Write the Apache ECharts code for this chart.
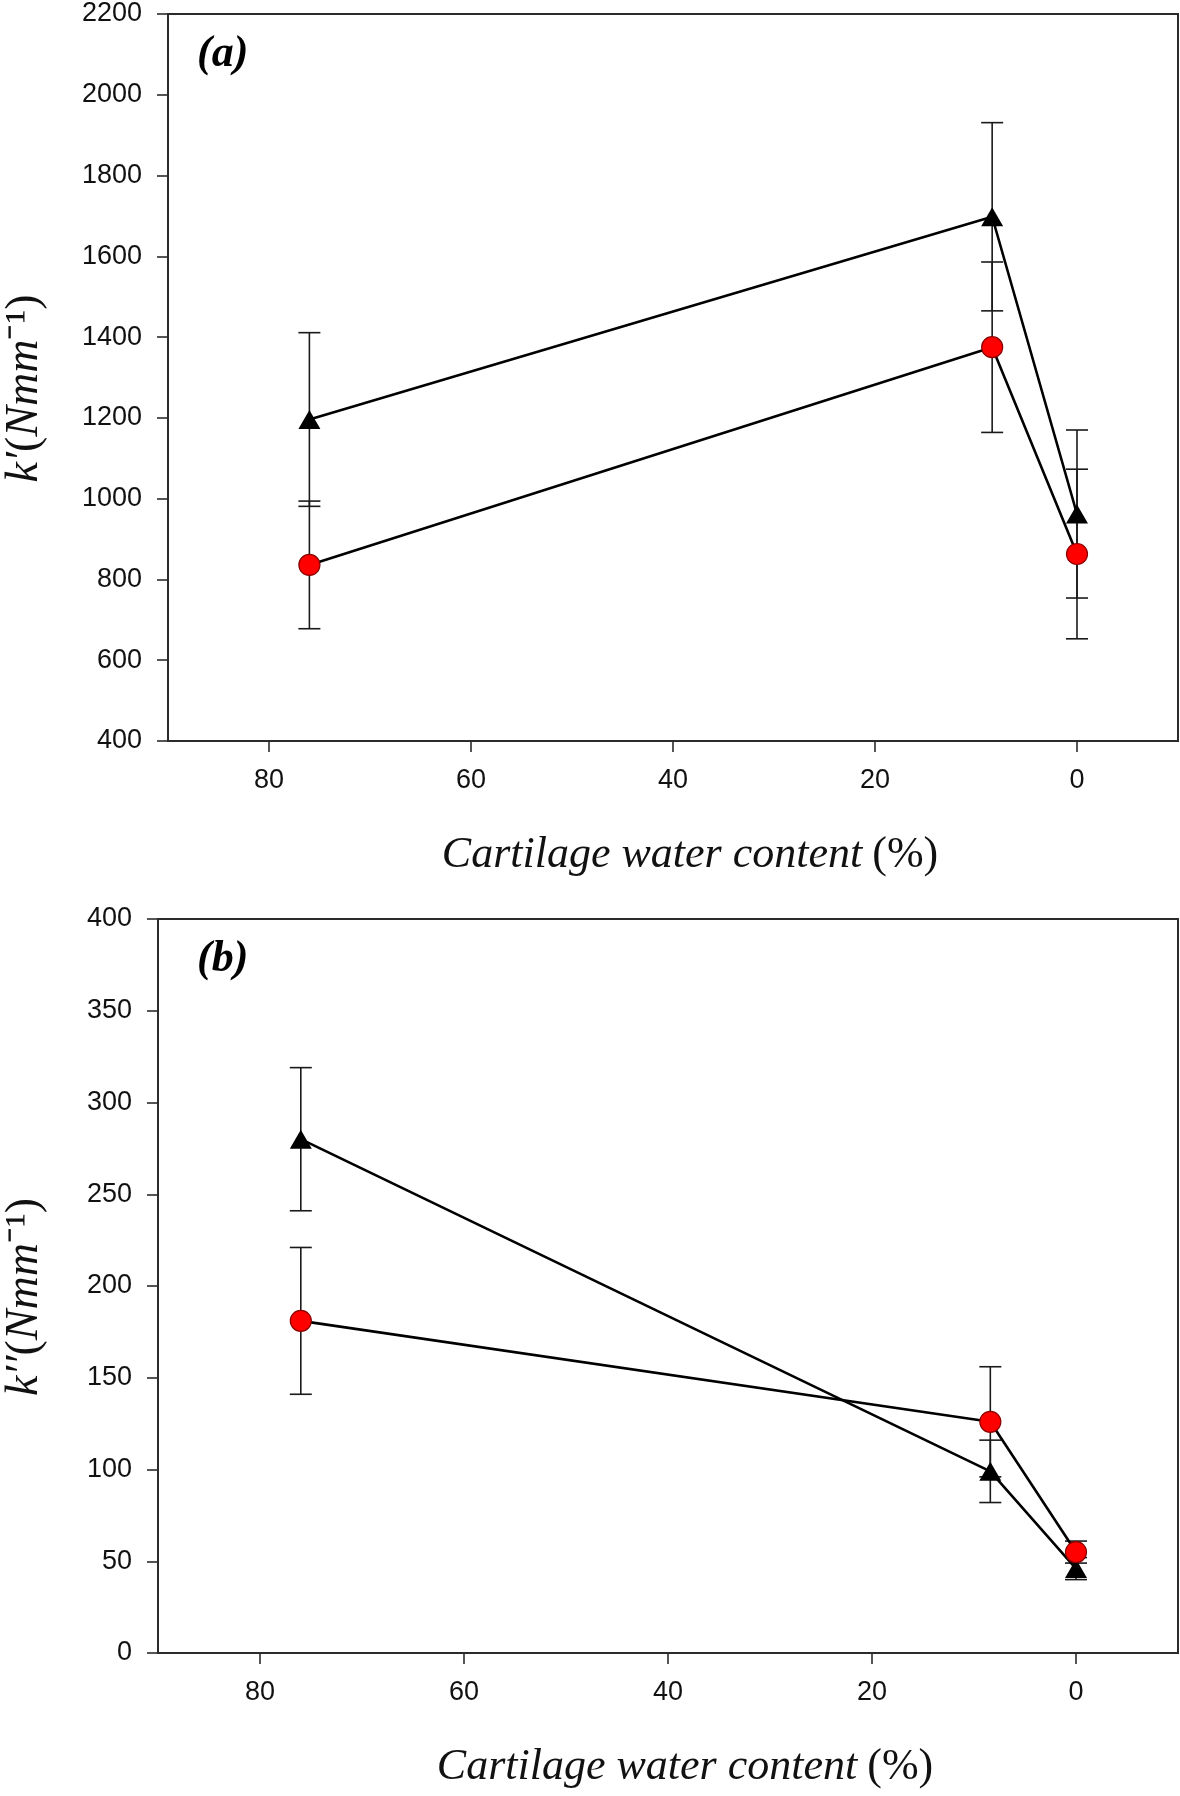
<!DOCTYPE html>
<html>
<head>
<meta charset="utf-8">
<script src="https://cdn.jsdelivr.net/npm/echarts@6/dist/echarts.min.js"></script>
<style>
html,body{margin:0;padding:0;background:#fff;}
#c{width:1180px;height:1796px;}
</style>
</head>
<body>
<div id="c"></div>
<script>
// ---- data ----
const waterContent = [76, 8.4, 0];            // x values (%)
const xTicks = [0, 20, 40, 60, 80];

const kPrimeTri = [1196, 1698, 962];
const kPrimeTriErr = [215, 233, 208];
const kPrimeCirc = [836, 1375, 863];
const kPrimeCircErr = [158, 211, 210];

const kDPrimeTri = [280, 99, 46];
const kDPrimeTriErr = [39, 17, 6];
const kDPrimeCirc = [181, 126, 55];
const kDPrimeCircErr = [40, 30, 6];

const panelLabels = ['(a)', '(b)'];
const xTitle = 'Cartilage water content';

// ---- helpers ----
function pts(vals) { return waterContent.map((x, i) => [x, vals[i]]); }
function errPts(vals, errs) { return waterContent.map((x, i) => [x, vals[i], errs[i]]); }

function errRender(params, api) {
  const x = api.value(0), y = api.value(1), e = api.value(2);
  const t = api.coord([x, y + e]);
  const b = api.coord([x, y - e]);
  const hw = 11;
  const st = { stroke: '#1a1a1a', lineWidth: 1.6 };
  return {
    type: 'group',
    children: [
      { type: 'line', shape: { x1: t[0], y1: t[1], x2: b[0], y2: b[1] }, style: st },
      { type: 'line', shape: { x1: t[0] - hw, y1: t[1], x2: t[0] + hw, y2: t[1] }, style: st },
      { type: 'line', shape: { x1: b[0] - hw, y1: b[1], x2: b[0] + hw, y2: b[1] }, style: st }
    ]
  };
}

const tickFont = { fontFamily: 'Liberation Sans, Arial, sans-serif', fontSize: 27, color: '#111' };
const axisLineStyle = { color: '#2b2b2b', width: 2 };
const serif = 'Liberation Serif, Times New Roman, serif';

function xAxisDef(gridIndex) {
  return {
    type: 'value', gridIndex, min: -10, max: 90, inverse: true,
    axisLine: { show: true, onZero: false, lineStyle: axisLineStyle },
    axisTick: { show: true, inside: false, length: 11, customValues: xTicks, lineStyle: { color: '#2b2b2b', width: 1.6 } },
    axisLabel: Object.assign({ margin: 26, customValues: xTicks, formatter: v => String(v) }, tickFont),
    splitLine: { show: false },
    name: '{i|' + xTitle + '}{u|(%)}',
    nameLocation: 'middle', nameGap: 92,
    nameTextStyle: {
      padding: [0, 0, 0, 34],
      rich: {
        i: { fontFamily: serif, fontStyle: 'italic', fontSize: 44, color: '#111' },
        u: { fontFamily: serif, fontSize: 44, color: '#111', padding: [0, 0, 0, 10] }
      }
    }
  };
}

function yAxisDef(gridIndex, min, max, interval, primes, gap) {
  return {
    type: 'value', gridIndex, min, max, interval,
    axisLine: { show: true, onZero: false, lineStyle: axisLineStyle },
    axisTick: { show: true, inside: false, length: 11, lineStyle: { color: '#2b2b2b', width: 1.6 } },
    axisLabel: Object.assign({ margin: 26, formatter: v => String(v) }, tickFont),
    splitLine: { show: false },
    name: '{i|k' + primes + '}{u|(}{i|Nmm}{u|\u207B\u00B9)}',
    nameLocation: 'middle', nameRotate: 90, nameGap: gap,
    nameTextStyle: {
      padding: [0, 0, 0, -22],
      rich: {
        i: { fontFamily: serif, fontStyle: 'italic', fontSize: 46, color: '#111' },
        u: { fontFamily: serif, fontSize: 46, color: '#111' }
      }
    }
  };
}

function lineSeries(xi, yi, vals, isTri) {
  return {
    type: 'line', xAxisIndex: xi, yAxisIndex: yi, data: pts(vals),
    lineStyle: { color: '#000', width: 2.6 },
    symbol: isTri ? 'triangle' : 'circle',
    symbolSize: isTri ? [22, 19] : 21,
    itemStyle: isTri ? { color: '#000' } : { color: '#ff0000', borderColor: '#8a0000', borderWidth: 1.2 },
    z: 3, animation: false
  };
}
function errSeries(xi, yi, vals, errs) {
  return {
    type: 'custom', xAxisIndex: xi, yAxisIndex: yi,
    data: errPts(vals, errs), encode: { x: 0, y: 1 },
    renderItem: errRender, z: 2, animation: false, clip: false
  };
}

const chart = echarts.init(document.getElementById('c'), null, { renderer: 'canvas' });
chart.setOption({
  backgroundColor: '#fff',
  animation: false,
  title: [
    { text: panelLabels[0], left: 192, top: 28,
      textStyle: { fontFamily: serif, fontStyle: 'italic', fontWeight: 'bold', fontSize: 44, color: '#000' } },
    { text: panelLabels[1], left: 192, top: 933,
      textStyle: { fontFamily: serif, fontStyle: 'italic', fontWeight: 'bold', fontSize: 44, color: '#000' } }
  ],
  grid: [
    { left: 168, top: 14, right: 2, height: 727, show: true, borderColor: '#2b2b2b', borderWidth: 2, containLabel: false, outerBoundsMode: 'none' },
    { left: 158, top: 919, right: 2, height: 734, show: true, borderColor: '#2b2b2b', borderWidth: 2, containLabel: false, outerBoundsMode: 'none' }
  ],
  xAxis: [xAxisDef(0), xAxisDef(1)],
  yAxis: [yAxisDef(0, 400, 2200, 200, '\u2032', 120), yAxisDef(1, 0, 400, 50, '\u2032\u2032', 110)],
  series: [
    errSeries(0, 0, kPrimeTri, kPrimeTriErr),
    errSeries(0, 0, kPrimeCirc, kPrimeCircErr),
    lineSeries(0, 0, kPrimeTri, true),
    lineSeries(0, 0, kPrimeCirc, false),
    errSeries(1, 1, kDPrimeTri, kDPrimeTriErr),
    errSeries(1, 1, kDPrimeCirc, kDPrimeCircErr),
    lineSeries(1, 1, kDPrimeTri, true),
    lineSeries(1, 1, kDPrimeCirc, false)
  ]
});
</script>
</body>
</html>
